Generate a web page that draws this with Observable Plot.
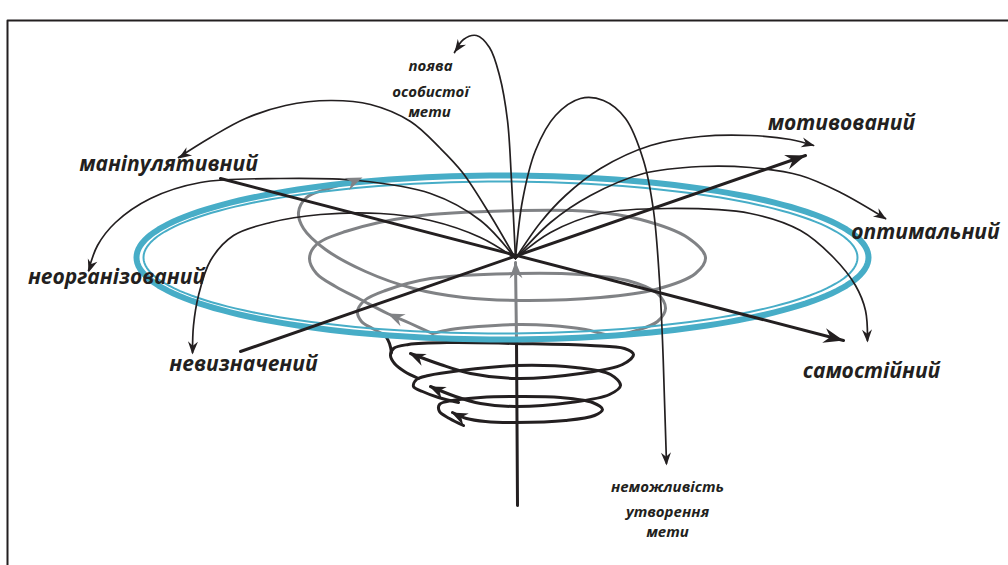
<!DOCTYPE html>
<html><head><meta charset="utf-8">
<script src="https://cdn.jsdelivr.net/npm/d3@7"></script>
<script src="https://cdn.jsdelivr.net/npm/@observablehq/plot@0.6"></script>
<style>html,body{margin:0;padding:0;background:#fff;overflow:hidden}</style>
</head><body><div id="chart"></div>
<script>
// ---------- data (pixel space) ----------
const frameLine = [[7,565],[7,20],[1008,20]];

const ringOuter = {cx: 502, cy: 257, rx: 366, ry: 82};
const ringInner = {cx: 500, cy: 257, rx: 357, ry: 76};

const axisA = [[220,178],[843,340]];           // маніпулятивний → самостійний
const axisB = [[240,351],[805,155]];           // невизначений → мотивований
const axisVerticalBlack = [[516,340],[517,505]];
const axisVerticalGray = [[516,340],[515,262]];

const arcPojava = [[515,258],[511,180],[507,120],[499,75],[489,47],[476,35],[463,39],[454,52]];
const arcNemozh = [[515,258],[522,200],[535,150],[555,115],[580,98],[603,100],[625,118],[643,160],[653,210],[659,280],[662,340],[664,400],[666,463]];
const arcManip  = [[515,258],[490,215],[462,172],[440,148],[410,121],[370,104],[330,100],[285,105],[245,118],[210,137],[178,157]];
const arcNeorg  = [[515,258],[480,220],[430,193],[357,180],[280,178],[200,182],[150,198],[115,222],[97,245],[88,270]];
const arcNevyzn = [[515,258],[480,237],[430,220],[380,213],[320,214],[270,222],[233,235],[210,260],[198,295],[193,325],[192,352]];
const arcMotiv  = [[515,258],[540,222],[565,195],[600,168],[650,145],[700,136],[750,135],[790,139],[813,145]];
const arcOptim  = [[515,258],[550,222],[590,195],[643,173],[700,166],[750,167],[800,175],[840,192],[885,218]];
const arcSamost = [[515,258],[550,232],[600,213],[667,208],[750,213],[800,230],[833,257],[855,285],[865,310],[867,340]];

// black coils below the ring (each ends in an arrow inside its left turn)
const coilBlack1 = [[463,425],[449,418],[439,411],[439,404],[452,400],[480,397],[515,396],[560,397],[592,402],[602,409],[594,415],[565,420],[515,422],[485,421],[466,418],[452,412]];
const coilBlack2 = [[458,402],[438,397],[422,391],[413,386],[416,379],[428,375],[460,370],[515,365],[575,367],[610,374],[620,385],[609,394],[570,402],[515,406],[480,403],[455,396],[430,386]];
const coilBlack3 = [[418,378],[404,371],[394,363],[390,355],[393,348],[408,344],[450,342],[515,343],[590,345],[624,348],[633,354],[622,364],[580,373],[515,378],[470,373],[440,364],[410,353]];
const linkBlack  = [[391,352],[389,343],[385,335]];

// gray coils above/inside the ring
const coilGray1 = [[385,335],[372,328],[361,321],[357,311],[364,300],[385,290],[430,278],[517,273],[580,274],[627,280],[657,293],[665,308],[657,321],[636,330],[612,335],[585,329],[550,325],[517,324],[478,326],[450,329],[432,333]];
const coilGray2 = [[432,333],[410,323],[387,313],[360,299],[335,286],[316,273],[309,258],[316,244],[345,231],[413,216],[520,210],[590,211],[640,219],[687,237],[705,257],[695,273],[655,289],[600,297],[520,300],[463,297],[413,288],[365,271],[325,249],[303,228],[298,212],[306,197],[328,188],[352,181]];

// arrowheads: tip and a point behind it (gives direction)
const headsThin = [
  {tip: [454,52],  from: [463,39]},
  {tip: [666,465], from: [665,440]},
  {tip: [178,158], from: [205,140]},
  {tip: [88,272],  from: [97,245]},
  {tip: [192,354], from: [193,325]},
  {tip: [814,145], from: [790,139]},
  {tip: [886,219], from: [862,203]},
  {tip: [867,342], from: [866,315]}
];
const headsAxis = [
  {tip: axisA[1], from: axisA[0]},
  {tip: axisB[1], from: axisB[0]}
];
const headsBlackSpiral = [
  {tip: [451,412], from: [470,421]},
  {tip: [429,386], from: [452,396]},
  {tip: [409,353], from: [432,363]}
];
const headsGraySpiral = [
  {tip: [387,313], from: [410,323]},
  {tip: [362,177], from: [340,186]},
  {tip: [515,261], from: [516,300]}
];

const labelsMain = [
  {text: "маніпулятивний", x: 168, y: 164},
  {text: "неорганізований", x: 116, y: 277},
  {text: "невизначений", x: 243, y: 364},
  {text: "мотивований", x: 841, y: 123},
  {text: "оптимальний", x: 925, y: 232},
  {text: "самостійний", x: 871, y: 371}
];
const labelsSmall = [
  {text: "поява", x: 430, y: 66},
  {text: "особистої", x: 430, y: 92},
  {text: "мети", x: 429, y: 112},
  {text: "неможливість", x: 667, y: 487},
  {text: "утворення", x: 667, y: 512},
  {text: "мети", x: 667, y: 532}
];

// ---------- helpers ----------
const ink = "#231f20", grey = "#808285", blue = "#47adc7";
const ellipse = e => d3.range(0, 361, 2).map(a => [e.cx + e.rx*Math.cos(a*Math.PI/180), e.cy + e.ry*Math.sin(a*Math.PI/180)]);
const px = {x: d => d[0], y: d => d[1]};
const path = (pts, o) => Plot.line(pts, {...px, curve: "catmull-rom", strokeLinecap: "round", strokeLinejoin: "round", ...o});
const arrowSym = (L, w) => ({draw(ctx) { ctx.moveTo(0,0); ctx.lineTo(-w/2, L); ctx.lineTo(0, L*0.68); ctx.lineTo(w/2, L); ctx.closePath(); }});
const heads = (list, L, w, color) => Plot.dot(list, {
  x: d => d.tip[0], y: d => d.tip[1],
  rotate: d => Math.atan2(d.tip[0]-d.from[0], -(d.tip[1]-d.from[1])) * 180/Math.PI,
  symbol: arrowSym(L, w), r: 5, fill: color, stroke: "none"
});
const font = "'Open Sans', 'DejaVu Sans', sans-serif";

const chart = Plot.plot({
  width: 1008, height: 565, margin: 0,
  x: {domain: [0, 1008], range: [0, 1008]},
  y: {domain: [0, 565], range: [0, 565]},
  axis: null,
  style: {background: "#fff"},
  marks: [
    Plot.line(frameLine, {...px, stroke: ink, strokeWidth: 2}),
    path(coilGray1, {stroke: grey, strokeWidth: 3}),
    path(coilGray2, {stroke: grey, strokeWidth: 3}),
    ...[coilBlack1, coilBlack2, coilBlack3, linkBlack].map(c => path(c, {stroke: ink, strokeWidth: 3})),
    Plot.line(axisVerticalGray, {...px, stroke: grey, strokeWidth: 3}),
    Plot.line(axisVerticalBlack, {...px, stroke: ink, strokeWidth: 3}),
    Plot.line(ellipse(ringOuter), {...px, stroke: blue, strokeWidth: 6}),
    Plot.line(ellipse(ringInner), {...px, stroke: blue, strokeWidth: 2}),
    ...[arcPojava, arcNemozh, arcManip, arcNeorg, arcNevyzn, arcMotiv, arcOptim, arcSamost]
      .map(a => path(a, {stroke: ink, strokeWidth: 1.7})),
    Plot.line(axisA, {...px, stroke: ink, strokeWidth: 3}),
    Plot.line(axisB, {...px, stroke: ink, strokeWidth: 3}),
    heads(headsThin, 13, 10, ink),
    heads(headsAxis, 20, 15, ink),
    heads(headsBlackSpiral, 16, 13, ink),
    heads(headsGraySpiral, 17, 13, grey),
    Plot.text(labelsMain, {x: "x", y: "y", text: "text", fontSize: 21, fontWeight: 700, fontStyle: "italic", fontFamily: font, fill: ink}),
    Plot.text(labelsSmall, {x: "x", y: "y", text: "text", fontSize: 15, fontWeight: 700, fontStyle: "italic", fontFamily: font, fill: ink})
  ]
});
document.getElementById("chart").appendChild(chart);
</script>
</body></html>
